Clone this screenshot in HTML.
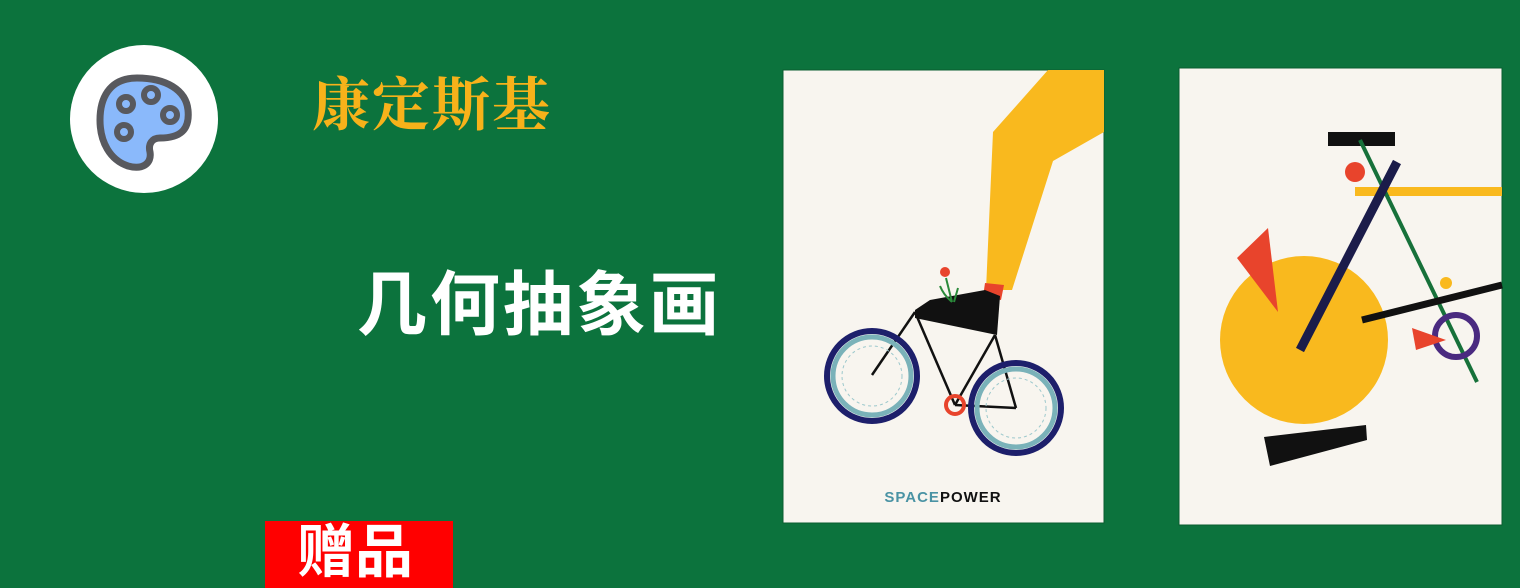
<!DOCTYPE html>
<html><head><meta charset="utf-8"><style>
html,body{margin:0;padding:0}
body{width:1520px;height:588px;background:#0c733d;position:relative;overflow:hidden;font-family:"Liberation Sans","Noto Sans CJK SC",sans-serif}
.t{position:absolute;white-space:nowrap;line-height:1}
</style></head><body>
<div class="t" style="left:312px;top:71px;font-size:58px;color:#f7b21a;font-family:'Noto Serif CJK SC','Liberation Serif',serif;font-weight:bold;letter-spacing:2px">康定斯基</div>
<div class="t" style="left:357px;top:270px;font-size:70px;font-weight:bold;color:#fff;letter-spacing:3px">几何抽象画</div>
<div style="position:absolute;left:265px;top:521px;width:188px;height:67px;background:#ff0000"></div>
<div class="t" style="left:297px;top:524px;font-size:58px;font-weight:bold;color:#fff">赠品</div>
<svg width="1520" height="588" style="position:absolute;left:0;top:0">
<g>
<circle cx="144" cy="119" r="74" fill="#fff"/>
<path d="M137,78 C108,78 100,100 100,120 C100,142 110,160 128,166 C142,170 152,164 150,152 C148,144 152,138 160,138 C180,138 190,130 188,110 C186,90 166,78 137,78 Z" fill="#8ab9fb" stroke="#58595e" stroke-width="7"/>
<g fill="#8ab9fb" stroke="#58595e" stroke-width="6"><circle cx="126" cy="104" r="7"/><circle cx="151" cy="95" r="7"/><circle cx="170" cy="115" r="7"/><circle cx="124" cy="132" r="7"/></g>
</g>
<g>
<rect x="783" y="70" width="321" height="453" fill="#f8f5ef" stroke="#0a5d30" stroke-width="1"/>
<polygon points="1048,70 1104,70 1104,132 1053,161 1012,290 986,290 993,132" fill="#f9b91e"/>
<polygon points="985,283 1004,285 1001,300 983,297" fill="#e8442c"/>
<polygon points="915,310 930,300 985,290 1000,296 997,335 915,318" fill="#111"/>
<g fill="none" stroke="#111" stroke-width="2.5">
<line x1="915" y1="312" x2="872" y2="375"/><line x1="915" y1="312" x2="955" y2="405"/>
<line x1="995" y1="335" x2="955" y2="405"/><line x1="995" y1="335" x2="1016" y2="408"/>
<line x1="955" y1="405" x2="1016" y2="408"/>
</g>
<g fill="none">
<circle cx="872" cy="376" r="45" stroke="#1d1f6b" stroke-width="6"/><circle cx="872" cy="376" r="39" stroke="#7ab2b9" stroke-width="5"/>
<circle cx="1016" cy="408" r="45" stroke="#1d1f6b" stroke-width="6"/><circle cx="1016" cy="408" r="39" stroke="#7ab2b9" stroke-width="5"/>
<circle cx="872" cy="376" r="30" stroke="#9cc8cc" stroke-width="1" stroke-dasharray="3 3"/>
<circle cx="1016" cy="408" r="30" stroke="#9cc8cc" stroke-width="1" stroke-dasharray="3 3"/>
<circle cx="955" cy="405" r="9" stroke="#e8442c" stroke-width="4"/>
</g>
<circle cx="945" cy="272" r="5" fill="#e8442c"/>
<path d="M946,278 L952,302 M940,286 C944,296 950,300 952,302 M958,288 L954,302" stroke="#2a8a3a" stroke-width="2" fill="none"/>
<text x="943" y="502" text-anchor="middle" font-size="15" font-weight="bold" font-family="Liberation Sans, sans-serif" letter-spacing="1"><tspan fill="#4a93a4">SPACE</tspan><tspan fill="#111">POWER</tspan></text>
</g>
<g>
<rect x="1179" y="68" width="323" height="457" fill="#f8f5ef" stroke="#0a5d30" stroke-width="1"/>
<circle cx="1304" cy="340" r="84" fill="#f9b91e"/>
<rect x="1328" y="132" width="67" height="14" fill="#111"/>
<circle cx="1355" cy="172" r="10" fill="#e8442c"/>
<rect x="1355" y="187" width="147" height="9" fill="#f9b91e"/>
<line x1="1360" y1="140" x2="1477" y2="382" stroke="#17713a" stroke-width="4"/>
<line x1="1397" y1="162" x2="1300" y2="350" stroke="#1b1c4a" stroke-width="9"/>
<polygon points="1237,258 1268,228 1278,312" fill="#e8442c"/>
<line x1="1362" y1="320" x2="1502" y2="285" stroke="#111" stroke-width="7"/>
<circle cx="1446" cy="283" r="6" fill="#f9b91e"/>
<circle cx="1456" cy="336" r="21" fill="none" stroke="#4a2a80" stroke-width="6"/>
<polygon points="1412,328 1416,350 1446,340" fill="#e8442c"/>
<polygon points="1264,437 1366,425 1367,440 1270,466" fill="#111"/>
</g>
</svg>
</body></html>
